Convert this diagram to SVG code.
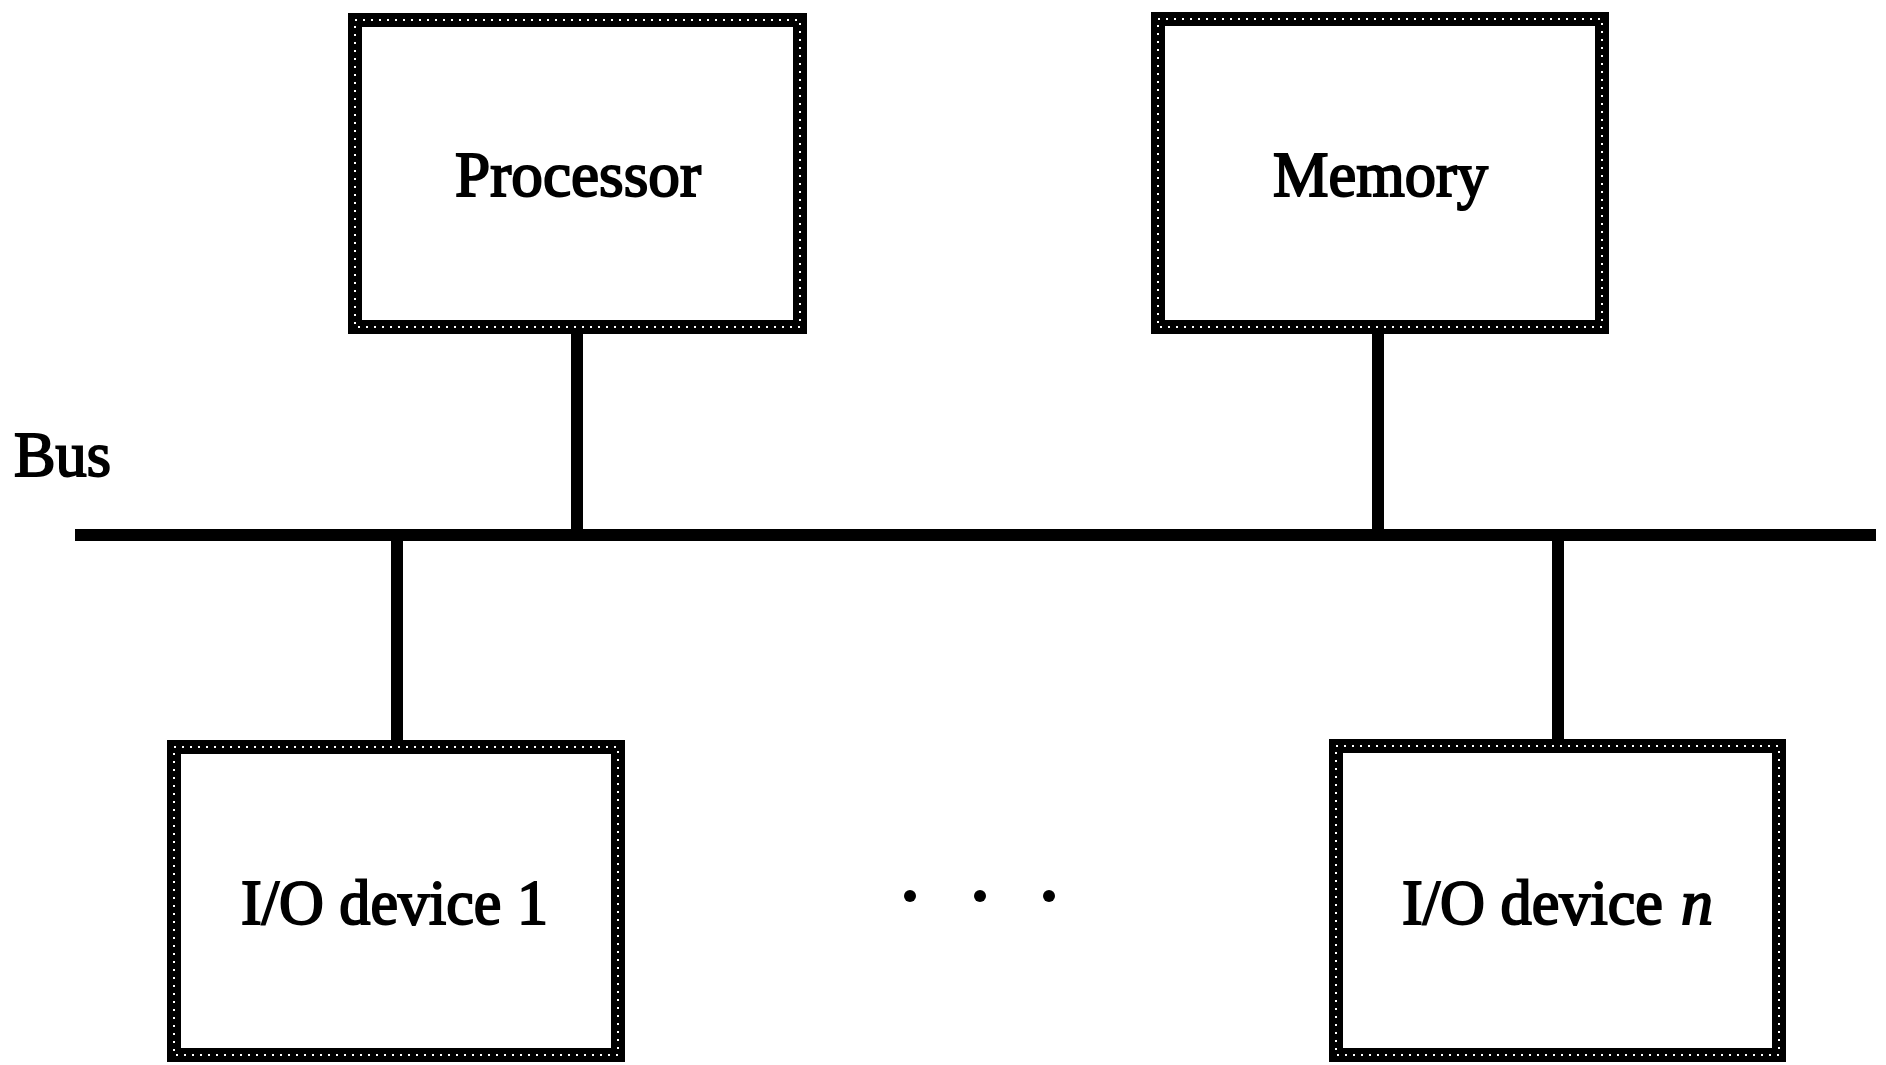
<svg xmlns="http://www.w3.org/2000/svg" width="1886" height="1065" viewBox="0 0 1886 1065">
<style>
.box{fill:#fff;stroke:#000;stroke-width:14}
.tex{fill:none;stroke:#fff;stroke-width:2;stroke-dasharray:2 6}
.lbl{font-family:"Liberation Serif","Times New Roman",serif;font-size:64px;fill:#000;stroke:#000;stroke-width:2}
.wire{stroke:#000;stroke-width:12;fill:none}
</style>
<rect width="1886" height="1065" fill="#fff"/>
<g id="connectors">
<line class="wire" x1="75" y1="535" x2="1876" y2="535" stroke-width="15"/>
<line class="wire" x1="577" y1="330" x2="577" y2="535"/>
<line class="wire" x1="1378" y1="330" x2="1378" y2="535"/>
<line class="wire" x1="397" y1="535" x2="397" y2="745"/>
<line class="wire" x1="1558" y1="535" x2="1558" y2="745"/>
</g>
<g id="processor">
<rect class="box" x="355" y="20" width="445" height="307"/>
<rect class="tex" x="355" y="20" width="445" height="307"/>
<text class="lbl" x="455" y="196" textLength="246" lengthAdjust="spacingAndGlyphs">Processor</text>
</g>
<g id="memory">
<rect class="box" x="1158" y="19" width="444" height="308"/>
<rect class="tex" x="1158" y="19" width="444" height="308"/>
<text class="lbl" x="1273" y="196" textLength="215" lengthAdjust="spacingAndGlyphs">Memory</text>
</g>
<g id="io1">
<rect class="box" x="174" y="747" width="444" height="308"/>
<rect class="tex" x="174" y="747" width="444" height="308"/>
<text class="lbl" x="241" y="924" textLength="307" lengthAdjust="spacingAndGlyphs">I/O device 1</text>
</g>
<g id="ion">
<rect class="box" x="1336" y="746" width="443" height="309"/>
<rect class="tex" x="1336" y="746" width="443" height="309"/>
<text class="lbl" x="1402" y="924" textLength="261" lengthAdjust="spacingAndGlyphs">I/O device</text>
<text class="lbl" x="1681" y="924" font-style="italic">n</text>
</g>
<g id="bus-label">
<text class="lbl" x="14" y="476" textLength="97" lengthAdjust="spacingAndGlyphs">Bus</text>
</g>
<g id="ellipsis">
<circle cx="910" cy="896" r="6"/>
<circle cx="980" cy="896" r="6"/>
<circle cx="1049" cy="896" r="6"/>
</g>
</svg>
